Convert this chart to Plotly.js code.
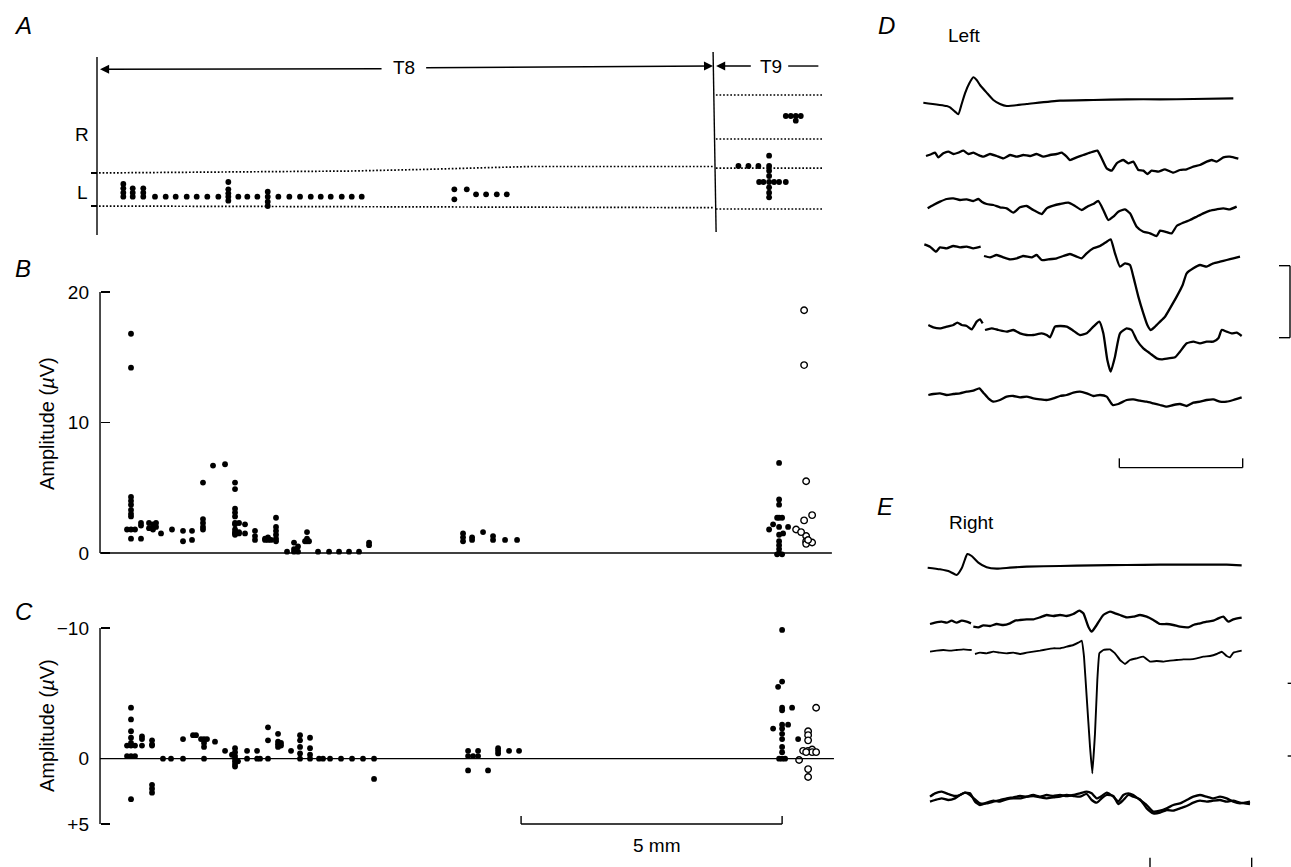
<!DOCTYPE html>
<html>
<head>
<meta charset="utf-8">
<script src="https://cdn.plot.ly/plotly-3.0.1.min.js"></script>
<style>html,body{margin:0;padding:0;background:#fff;}#chart{width:1291px;height:867px;}</style>
</head>
<body>
<div id="chart"></div>
<script>
// ---------- Panel A: recording positions (x in mm along cord, y lateral position, L band = 0..1) ----------
const aX = [0.506,0.506,0.506,0.506, 0.687,0.687,0.687, 0.890,0.890,0.890,
  1.115,1.321,1.513,1.725,1.917,2.121,2.333,
  2.525,2.525,2.525,2.525,2.525,
  2.717,2.890,3.083,
  3.283,3.283,3.283,3.283,
  3.487,3.698,3.904,4.110,4.302,4.494,4.706,4.898,5.090,
  6.871,6.871,7.110,7.288,7.481,7.687,7.879,
  12.333,12.525,12.717,
  12.923,12.923,12.923,12.923,12.923,12.923,12.923,12.923,
  12.731,12.814,13.019,13.115,13.244,
  13.244,13.340,13.436,13.532,13.436];
const aY = [0.667,0.536,0.403,0.282, 0.536,0.403,0.282, 0.536,0.403,0.282,
  0.282,0.282,0.282,0.282,0.282,0.282,0.282,
  0.727,0.505,0.384,0.282,0.161,
  0.282,0.282,0.282,
  0.434,0.282,0.130,0.0,
  0.282,0.282,0.282,0.282,0.282,0.282,0.282,0.282,0.282,
  0.505,0.203,0.505,0.354,0.354,0.354,0.354,
  1.212,1.212,1.212,
  1.525,1.212,1.071,0.909,0.727,0.566,0.404,0.263,
  0.727,0.727,0.727,0.727,0.727,
  2.727,2.727,2.727,2.727,2.586];
const aBandTopX = [-0.1, 2.94, 4.87, 6.21, 7.37, 8.33, 11.85];
const aBandTopY = [1.0, 1.03, 1.06, 1.106, 1.167, 1.197, 1.197];
const aBandBotX = [-0.1, 11.85];
const aBandBotY = [0.0, -0.05];
const t9EdgeX = [11.9, 13.94];
const t9EdgeY = [3.364, 2.03, 1.15, -0.09];

// ---------- Panel B: amplitude (µV) ----------
const bX = [0.654,0.654,0.654,0.654,0.654,0.654,0.654,0.654,0.654,0.654, 0.577,0.731,
  0.846,0.846,0.846, 1.000,1.000, 1.077,1.077,1.077, 1.135,1.135, 1.231, 1.442, 1.654,1.654, 1.827,1.827,
  2.038,2.038,2.038,2.038,2.038, 2.231, 2.462,
  2.654,2.654,2.654,2.654,2.654,2.654,2.654,2.654,2.654,2.654,2.654, 2.731,2.731,2.731,
  2.846,2.846, 3.038,3.038,3.038, 3.231,3.231, 3.288,3.288, 3.346,
  3.442,3.442,3.442,3.442,3.442,3.442, 3.654, 3.788,3.788,3.788, 3.865,3.865,
  4.038,4.038,4.038, 4.0,4.077, 4.25,4.462,4.654,4.846,5.038, 5.231,5.231,
  7.038,7.038,7.038, 7.212,7.212, 7.423, 7.615,7.615, 7.846, 8.077,
  13.115,13.115,13.115,13.115,13.115,13.115,13.115,13.115,13.115,13.115,
  13.077,13.077, 13.173,13.173, 12.923, 13.0, 13.288, 13.192];
const bY = [16.8,14.2,4.3,4.0,3.7,3.3,3.0,2.8,1.8,1.1, 1.8,1.8,
  2.3,2.1,1.1, 2.3,1.9, 2.2,2.0,1.8, 2.3,2.0, 1.5, 1.8, 1.7,0.9, 1.7,1.0,
  5.4,2.6,2.3,2.0,1.8, 6.7, 6.8,
  5.4,4.9,3.4,3.1,2.8,2.3,2.2,1.8,1.6,1.5,1.4, 2.3,1.6,1.5,
  2.2,1.5, 1.7,1.3,1.0, 1.1,1.0, 1.2,1.0, 1.0,
  2.7,2.0,1.7,1.4,1.1,0.9, 0.1, 0.8,0.3,0.1, 0.5,0.1,
  1.6,1.1,0.9, 0.9,0.9, 0.1,0.1,0.1,0.1,0.1, 0.8,0.6,
  1.5,1.2,0.9, 1.2,1.0, 1.6, 1.3,1.0, 1.0, 1.0,
  6.9,4.1,3.7,2.7,2.0,1.4,0.9,0.6,0.3,0.0,
  2.7,-0.1, 2.7,-0.1, 1.8, 2.2, 2.0, 1.5];
const bOpenX = [13.596,13.596,13.596, 13.635,13.635,13.635,13.635, 13.75,13.75, 13.442, 13.538, 13.673];
const bOpenY = [18.6,14.4,2.5, 5.5,1.3,0.9,0.7, 2.9,0.8, 1.8, 1.6, 1.0];

// ---------- Panel C: amplitude (µV, negative up) ----------
const cX = [0.654,0.654,0.654,0.654,0.654,0.654,0.654,0.654, 0.577,0.577, 0.731,0.731,
  0.865,0.865,0.865, 1.058,1.058,1.058,1.058,1.058,1.058, 1.269, 1.423, 1.654,1.654, 1.846, 1.904,
  2.058,2.058,2.058,2.058, 2.0,2.115, 2.269, 2.462,
  2.654,2.654,2.654,2.654,2.654,2.654,2.654, 2.596,2.712,
  2.885,2.885, 3.077,3.077, 3.135, 3.288,3.288,3.288,
  3.481,3.481,3.481,3.481, 3.538,3.538, 3.731,
  3.904,3.904,3.904,3.904,3.904, 4.096,4.096,4.096,4.096,
  4.269,4.346,4.481,4.692,4.904,5.115,5.327, 5.327,
  7.135,7.135,7.135, 7.231, 7.327,7.327, 7.519, 7.712,7.712,7.712, 7.923, 8.115,
  13.0, 13.096,
  13.173,13.173,13.173,13.173,13.173,13.173,13.173,13.173,13.173,13.173,13.173,
  13.115,13.231, 13.288, 13.365, 13.481];
const cY = [-3.9,-3.0,-2.1,-1.6,-1.2,-1.0,-0.2,3.1, -1.0,-0.2, -1.0,-0.2,
  -1.7,-1.5,-1.0, -1.4,-1.1,-1.0,2.0,2.3,2.6, 0, 0, -1.5,0, -1.8, -1.8,
  -1.5,-1.2,-0.9,0, -1.5,-1.5, -1.3, -0.6,
  -0.8,-0.5,-0.2,0,0.2,0.4,0.6, -0.3,0.2,
  -0.6,0, -0.6,0, 0, -2.4,-1.4,0,
  -1.9,-1.3,-1.1,-0.9, -1.2,-1.0, -0.6,
  -1.8,-1.4,-0.9,-0.4,0, -1.6,-0.8,-0.3,0,
  0,0,0,0,0,0,0, 1.55,
  -0.6,-0.2,0.9, -0.2, -0.6,-0.2, 0.9, -0.8,-0.6,-0.4, -0.6, -0.6,
  -2.3, -5.5,
  -9.85,-5.9,-3.9,-3.7,-2.6,-2.3,-1.9,-1.5,-0.9,-0.5,0,
  0,0, -2.6, -3.9, -1.5];
const cOpenX = [13.5, 13.577, 13.673,13.673,13.673,13.673,13.673,13.673, 13.75,13.75, 13.827,13.827, 13.635];
const cOpenY = [0.1, -0.6, -2.1,-1.8,-1.4,-0.6,0.8,1.4, -0.7,-0.5, -3.9,-0.5, -0.5];

const d1x = [190,260,270,285,295,305,315,328,340,350,360,380,400,420,440,500,600,700,800,900,1000,1120];
const d1y = [308,318,322,335,343,312,280,250,232,240,255,278,300,312,318,312,302,300,298,298,297,295];
const d2x = [198,215,225,235,250,265,280,295,310,325,340,355,370,390,410,430,450,470,490,510,530,550,570,590,605,620,630,650,670,690,712,725,740,755,770,790,805,820,835,850,862,875,895,915,940,960,980,1000,1020,1040,1055,1070,1090,1110,1135];
const d2y = [468,462,458,472,460,455,462,458,452,462,458,465,470,462,468,475,465,470,465,468,462,470,465,462,458,470,480,472,465,458,452,475,505,512,490,480,490,485,510,512,522,512,515,508,518,510,508,500,495,485,480,485,472,470,476];
const d3x = [203,220,240,260,280,300,320,340,355,365,380,400,420,440,460,480,500,520,545,560,580,600,625,645,665,685,700,715,730,745,760,775,795,810,830,850,870,890,900,915,935,950,970,990,1010,1030,1050,1070,1090,1110,1130];
const d3y = [625,615,605,597,595,600,598,603,597,605,612,615,622,625,638,622,618,630,642,625,617,612,608,618,630,618,612,603,630,660,650,635,628,640,680,695,700,708,692,695,700,678,668,660,650,640,632,628,625,628,620];
const d4x = [193,210,228,240,260,280,300,320,340,362,null,372,390,410,430,450,470,490,515,530,545,565,590,610,630,650,665,680,700,720,740,752,765,780,795,810,820,835,850,862,872,885,900,915,930,950,968,980,1000,1020,1040,1060,1080,1100,1120,1140];
const d4y = [733,740,755,742,745,738,742,740,745,740,null,768,772,765,772,778,775,768,772,765,780,778,775,768,762,770,775,760,745,738,725,718,760,800,790,795,830,890,940,975,990,980,965,950,925,890,855,820,805,795,800,790,785,780,775,770];
const d5x = [205,220,240,260,280,292,305,320,335,350,360,368,null,375,395,415,440,460,480,500,520,545,560,570,585,600,620,640,660,680,700,718,730,742,752,765,780,800,815,830,850,870,890,905,925,945,960,980,1000,1020,1040,1060,1075,1085,1100,1115,1130,1145];
const d5y = [975,982,985,980,975,968,975,978,988,965,958,970,null,990,985,990,995,990,1000,1005,1005,1000,1005,1012,980,978,980,992,1005,1000,980,965,1000,1080,1115,1070,1000,985,990,1020,1045,1060,1075,1078,1075,1072,1055,1030,1025,1030,1025,1025,1015,990,995,1000,998,1008];
const d6x = [205,220,240,260,280,300,320,340,358,370,385,400,420,440,460,480,500,520,540,560,580,600,620,640,660,680,700,720,740,758,775,800,820,840,860,880,900,920,940,960,980,1000,1020,1040,1060,1080,1100,1120,1145];
const d6y = [1185,1182,1180,1185,1182,1180,1175,1172,1165,1178,1195,1205,1200,1190,1188,1192,1190,1195,1198,1200,1195,1188,1185,1178,1175,1180,1188,1185,1190,1215,1212,1200,1198,1202,1205,1210,1215,1220,1215,1212,1218,1208,1205,1200,1198,1205,1205,1200,1192];

// ---------- Panel E: Right traces ----------
const e1x = [203,240,270,290,305,315,322,335,355,380,410,450,500,600,700,800,900,1000,1100,1145];
const e1y = [263,268,275,285,265,238,222,228,248,262,266,263,260,258,256,255,254,254,254,256];
const e2x = [210,225,245,260,275,290,305,320,333,null,340,355,370,390,410,430,450,465,480,500,520,540,560,580,600,620,640,658,670,685,695,710,730,750,765,780,800,820,840,860,880,900,920,940,960,985,1000,1020,1040,1060,1075,1090,1105,1120,1145];
const e2y = [432,428,425,428,422,428,422,425,430,null,440,442,436,438,432,435,430,422,420,418,418,412,405,408,405,408,402,392,400,440,455,435,405,395,400,405,412,410,405,410,420,432,432,435,440,442,435,430,425,422,415,410,425,418,413];
const e3x = [210,230,250,270,290,310,335,null,345,360,380,400,420,440,460,480,500,520,540,560,580,600,620,640,655,665,672,680,690,697,705,712,718,730,750,765,780,795,810,830,850,870,890,910,930,950,970,990,1010,1030,1050,1070,1085,1100,1110,1120,1145];
const e3y = [515,512,510,512,510,508,510,null,522,518,520,515,518,520,518,522,518,515,512,508,505,505,500,495,488,482,530,650,800,880,760,600,520,510,508,520,540,552,540,535,530,545,543,545,542,540,538,538,535,530,528,522,515,528,532,518,512];
const e4x = [210,225,245,265,285,300,315,330,345,360,380,400,420,440,460,480,500,520,540,560,580,600,620,640,660,680,695,710,725,740,760,775,790,805,820,840,860,880,900,920,940,960,980,1000,1020,1040,1060,1080,1100,1120,1140,1170];
const e4aY = [950,940,935,942,948,945,938,940,965,975,968,962,965,958,955,955,950,945,950,945,948,945,948,945,940,935,940,955,948,938,950,965,945,940,945,960,975,995,992,985,975,970,960,950,945,950,955,950,955,965,970,965];
const e4bY = [965,960,955,960,955,945,938,945,958,970,970,965,960,955,952,948,950,948,952,955,952,950,945,948,950,942,960,968,955,945,948,972,960,945,950,958,985,1000,998,990,992,985,978,968,962,965,962,960,965,962,968,972];

// ---------- Build figure ----------
const FONT = 'Liberation Sans, Arial, Helvetica, sans-serif';
const W = 1291, H = 867;
const px = v => v / W;
const py = v => 1 - v / H;

const dot = (x, y, xa, ya) => ({type:'scatter', mode:'markers', x, y, xaxis:xa, yaxis:ya, cliponaxis:false,
  marker:{size:5.8, color:'#000', line:{width:0}}, hoverinfo:'skip', showlegend:false});
const openDot = (x, y, xa, ya) => ({type:'scatter', mode:'markers', x, y, xaxis:xa, yaxis:ya, cliponaxis:false,
  marker:{size:6.5, color:'#fff', symbol:'circle', line:{width:1.4, color:'#000'}}, hoverinfo:'skip', showlegend:false});
const dotted = (x, y) => ({type:'scatter', mode:'lines', x, y, xaxis:'x', yaxis:'y',
  line:{color:'#000', width:1.7, dash:'1.7px,1.9px'}, hoverinfo:'skip', showlegend:false});
const trace = (x, y, ya, w, sm) => ({type:'scatter', mode:'lines', x, y, xaxis:'x2', yaxis:ya,
  line:{color:'#000', width:w || 2.3, shape:'spline', smoothing:sm === undefined ? 0.5 : sm}, connectgaps:false,
  hoverinfo:'skip', showlegend:false});

const data = [
  dotted(aBandTopX, aBandTopY),
  dotted(aBandBotX, aBandBotY),
  ...t9EdgeY.map(v => dotted(t9EdgeX, [v, v])),
  dot(aX, aY, 'x', 'y'),
  dot(bX, bY, 'x', 'y2'),
  openDot(bOpenX, bOpenY, 'x', 'y2'),
  dot(cX, cY, 'x', 'y3'),
  openDot(cOpenX, cOpenY, 'x', 'y3'),
  trace(d1x, d1y, 'y4', 2.1), trace(d2x, d2y, 'y4'), trace(d3x, d3y, 'y4'),
  trace(d4x, d4y, 'y4'), trace(d5x, d5y, 'y4'), trace(d6x, d6y, 'y4'),
  trace(e1x, e1y, 'y5', 2.1), trace(e2x, e2y, 'y5'), trace(e3x, e3y, 'y5', 1.9, 0.2),
  trace(e4x, e4aY, 'y5'), trace(e4x, e4bY, 'y5')
];

const ln = (xref, yref, x0, y0, x1, y1, w) => ({type:'line', xref, yref, x0, y0, x1, y1, line:{color:'#000', width:w || 1.4}});
const shapes = [
  // A frame lines
  ln('x','y', 0, -0.879, 0, 4.515),
  ln('x','y', 11.846, 4.667, 11.904, -0.788),
  ln('x','y', 13.29, 4.242, 13.87, 4.242),
  // B axis + baseline
  ln('x','y2', 0.058, 0, 0.058, 20),
  ln('x','y2', 0.058, 0, 14.13, 0),
  // C axis + baseline
  ln('x','y3', 0.058, -10, 0.058, 5),
  ln('x','y3', 0.058, 0, 14.17, 0),
  // 5 mm scale bar
  ln('x','y3', 8.154, 5, 13.173, 5),
  ln('x','y3', 8.154, 5, 8.154, 4.39),
  ln('x','y3', 13.173, 5, 13.173, 4.39),
  // D scale bars
  ln('x2','y4', 778, 1403, 1148, 1403),
  ln('x2','y4', 778, 1403, 778, 1375),
  ln('x2','y4', 1148, 1403, 1148, 1375),
  ln('x2','y4', 1290, 797, 1290, 1013),
  ln('x2','y4', 1257, 797, 1290, 797),
  ln('x2','y4', 1257, 1013, 1290, 1013),
  // E scale marks
  ln('x2','y5', 870, 1133, 870, 1161),
  ln('x2','y5', 1175, 1133, 1175, 1161),
  ln('x2','y5', 1283, 610, 1293, 610),
  ln('x2','y5', 1283, 828, 1293, 828)
];

const txt = (text, x, y, size, extra) => Object.assign({text, xref:'paper', yref:'paper', x:px(x), y:py(y),
  showarrow:false, xanchor:'center', yanchor:'middle', font:{family:FONT, size:size || 19, color:'#000'}}, extra || {});
const arrow = (x, y, ax, ay) => ({text:'', xref:'x', yref:'y', axref:'x', ayref:'y', x, y, ax, ay,
  showarrow:true, arrowhead:2, arrowsize:1.3, arrowwidth:1.4, arrowcolor:'#000', standoff:0, startstandoff:0});

const annotations = [
  txt('<i>A</i>', 23, 25, 24), txt('<i>B</i>', 23, 268, 24), txt('<i>C</i>', 24, 611, 24),
  txt('<i>D</i>', 886, 25, 24), txt('<i>E</i>', 885, 507, 24),
  txt('R', 82, 135), txt('L', 82, 192),
  txt('T8', 404, 68), txt('T9', 771, 66),
  txt('Amplitude (<i>µ</i>V)', 47, 424, 20, {textangle:-90}),
  txt('Amplitude (<i>µ</i>V)', 47, 726, 20, {textangle:-90}),
  txt('5 mm', 657, 845),
  txt('Left', 964, 35), txt('Right', 971, 522),
  arrow(0.058, 4.142, 5.5, 4.16),
  arrow(11.846, 4.242, 6.3, 4.19),
  arrow(11.904, 4.242, 12.6, 4.242)
];

const hidden = {visible:false, showgrid:false, zeroline:false, fixedrange:true};
const layout = {
  width: W, height: H, margin:{l:0, r:0, t:0, b:0},
  paper_bgcolor:'#fff', plot_bgcolor:'rgba(0,0,0,0)', showlegend:false,
  font:{family:FONT, size:19, color:'#000'},
  xaxis: Object.assign({}, hidden, {domain:[px(87), px(835)], range:[-0.1923, 14.19], anchor:'y'}),
  yaxis: {domain:[py(237), py(48)], range:[-0.939, 4.788], anchor:'free', position:px(97),
    showgrid:false, zeroline:false, showline:false, ticks:'outside', ticklen:6, tickwidth:1.4, tickcolor:'#000',
    tickvals:[0,1], showticklabels:false},
  yaxis2: {domain:[py(563), py(282)], range:[-0.766, 20.766], anchor:'free', position:px(100),
    showgrid:false, zeroline:false, showline:false, ticks:'inside', ticklen:9, tickwidth:1.4, tickcolor:'#000',
    tickvals:[0,10,20], ticktext:['0','10','20'], tickfont:{family:FONT, size:19}, ticklabelstandoff:11},
  yaxis3: {domain:[py(834), py(618)], range:[5.765, -10.765], anchor:'free', position:px(100),
    showgrid:false, zeroline:false, showline:false, ticks:'inside', ticklen:9, tickwidth:1.4, tickcolor:'#000',
    tickvals:[-10,0,5], ticktext:['\u221210','0','+5'], tickfont:{family:FONT, size:19}, ticklabelstandoff:11},
  xaxis2: Object.assign({}, hidden, {domain:[px(860), 1], range:[0, 1293], anchor:'y4'}),
  yaxis4: Object.assign({}, hidden, {domain:[py(480), 1], range:[1440, 0], anchor:'x2'}),
  yaxis5: Object.assign({}, hidden, {domain:[0, py(480)], range:[1161, 0], anchor:'x2'}),
  shapes, annotations
};

Plotly.newPlot('chart', data, layout, {staticPlot:true, displayModeBar:false});
</script>
</body>
</html>
